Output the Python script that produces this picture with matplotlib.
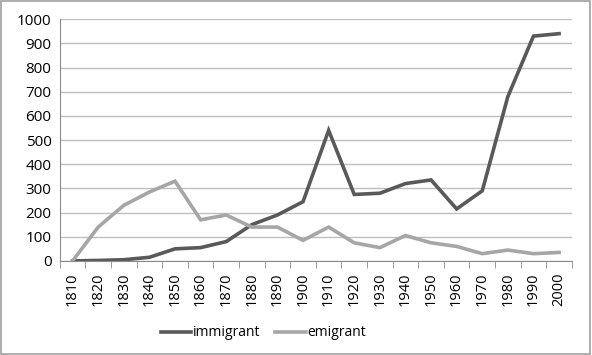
import numpy as np
import matplotlib.pyplot as plt
from matplotlib.patches import Rectangle

years = [1810, 1820, 1830, 1840, 1850, 1860, 1870, 1880, 1890, 1900,
         1910, 1920, 1930, 1940, 1950, 1960, 1970, 1980, 1990, 2000]
immigrant = [0, 2, 5, 15, 50, 55, 80, 150, 190, 245,
             540, 275, 280, 320, 335, 215, 290, 680, 930, 940]
emigrant = [0, 140, 230, 285, 330, 170, 190, 140, 140, 85,
            140, 75, 55, 105, 75, 60, 30, 45, 30, 35]

plt.rcParams['font.family'] = ['Open Sans', 'DejaVu Sans']

fig = plt.figure(figsize=(5.92, 3.55), dpi=100)
ax = fig.add_axes([0.101, 0.265, 0.865, 0.681])

x = np.arange(len(years))
ax.plot(x, immigrant, color='#595959', lw=2.6, label='immigrant', solid_joinstyle='miter')
ax.plot(x, emigrant, color='#a6a6a6', lw=2.6, label='emigrant', solid_joinstyle='miter')

ax.set_xlim(-0.5, len(years) - 0.5)
ax.set_ylim(0, 1000)
ax.set_yticks(range(0, 1001, 100))
ax.yaxis.grid(True, color='#bfbfbf', lw=1)
ax.set_axisbelow(True)

ax.set_xticks(x)
ax.set_xticklabels([str(y) for y in years], rotation=90)
ax.set_xticks(np.arange(-0.5, len(years)), minor=True)
ax.tick_params(axis='x', which='major', length=0, pad=8, labelsize=10.5)
ax.tick_params(axis='x', which='minor', length=5, color='#8c8c8c')
ax.tick_params(axis='y', length=0, pad=6, labelsize=11)

for s in ['top', 'right']:
    ax.spines[s].set_visible(False)
ax.spines['left'].set_color('#8c8c8c')
ax.spines['bottom'].set_color('#8c8c8c')

fig.legend(loc='center', bbox_to_anchor=(0.445, 0.062), ncol=2, frameon=False,
           fontsize=10, handlelength=2.2, handletextpad=0.1, columnspacing=1.1)

fig.patches.append(Rectangle((0.002, 0.003), 0.995, 0.994, transform=fig.transFigure,
                             fill=False, edgecolor='#a0a0a0', lw=1.2))

fig.savefig('out.png', dpi=100)
